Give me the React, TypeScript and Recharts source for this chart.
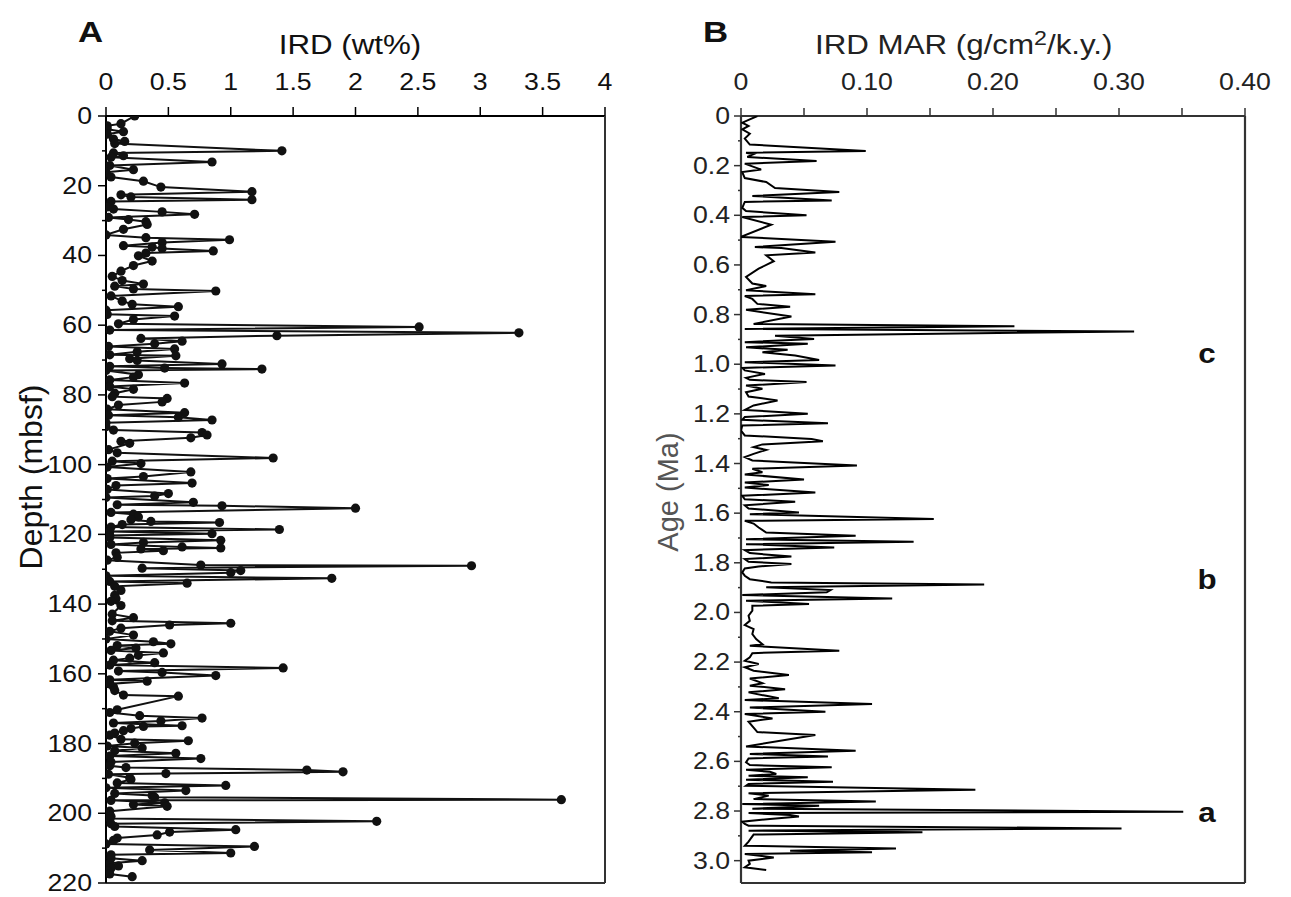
import React from 'react';
import { ScatterChart, Scatter, XAxis, YAxis } from 'recharts';

// ---------- Panel A: IRD (wt%) vs depth (mbsf) ----------
const depthA = [
  0, 2.2, 2.8, 3.8, 4.5, 5.2, 6.6, 7.3, 7.9, 10.0, 10.6, 11.4, 11.8, 13.2, 14.2, 15.4, 16.1, 17.5, 18.7, 20.4,
  21.7, 22.6, 23.2, 24.0, 24.5, 26.1, 26.7, 27.5, 28.2, 29.1, 29.7, 30.3, 31.1, 32.5, 34.1, 34.9, 35.5, 36.3, 37.2, 37.6,
  38.0, 38.7, 39.3, 40.1, 41.6, 42.9, 44.5, 46.0, 47.2, 48.2, 48.8, 49.6, 50.2, 51.6, 53.1, 54.0, 54.7, 55.7, 56.9, 57.4,
  58.4, 59.6, 60.5, 61.4, 62.2, 63.0, 63.8, 64.6, 65.3, 66.1, 66.8, 67.6, 68.5, 68.8, 69.6, 70.1, 71.1, 71.8, 72.3, 72.6,
  73.0, 74.2, 74.9, 75.7, 76.6, 77.6, 78.4, 79.5, 80.5, 81.0, 82.0, 82.9, 84.1, 85.1, 85.8, 86.4, 87.2, 88.0, 89.1, 90.1,
  90.8, 91.5, 92.3, 93.3, 93.9, 95.7, 96.6, 98.1, 99.0, 99.7, 100.7, 102.1, 103.4, 104.0, 105.3, 106.0, 107.1, 108.3, 109.0, 109.4,
  110.8, 111.5, 111.8, 112.5, 113.7, 114.2, 115.0, 115.8, 116.3, 116.6, 117.2, 117.9, 118.6, 119.2, 119.8, 120.3, 120.9, 121.7, 122.3, 122.9,
  123.6, 123.9, 124.2, 124.7, 125.3, 126.6, 127.4, 128.8, 129.0, 129.7, 130.4, 131.0, 131.9, 132.6, 133.5, 134.0, 134.9, 136.1, 137.5, 138.5,
  139.2, 140.4, 142.9, 143.9, 144.8, 145.5, 146.0, 146.9, 147.8, 148.9, 150.0, 150.8, 151.4, 151.9, 152.6, 153.3, 154.0, 154.7, 155.5, 156.1,
  156.8, 157.5, 158.3, 159.2, 159.6, 160.5, 161.7, 162.1, 162.9, 163.8, 164.8, 166.1, 166.4, 170.3, 171.1, 172.0, 172.7, 173.5, 174.1, 174.9,
  175.1, 175.7, 176.3, 177.0, 177.6, 178.8, 179.2, 179.9, 180.7, 181.3, 182.1, 182.8, 183.6, 184.3, 185.3, 186.4, 186.9, 187.6, 188.1, 188.6,
  188.8, 189.8, 190.3, 191.3, 192.0, 192.7, 193.5, 194.3, 194.9, 195.4, 196.1, 196.3, 197.0, 197.5, 198.0, 199.4, 200.1, 200.9, 201.5, 202.3,
  203.0, 203.8, 204.7, 205.4, 206.2, 207.1, 207.8, 208.8, 209.5, 210.5, 211.4, 211.9, 212.9, 213.6, 214.3, 215.1, 215.8, 216.5, 217.4, 218.2,
];
const irdA = [
  0.23, 0.12, 0.01, 0.01, 0.14, 0.01, 0.06, 0.15, 0.07, 1.41, 0.06, 0.14, 0.04, 0.85, 0.03, 0.22, 0.0, 0.04, 0.30, 0.44,
  1.17, 0.12, 0.20, 1.17, 0.04, 0.01, 0.06, 0.45, 0.71, 0.02, 0.18, 0.32, 0.33, 0.14, 0.0, 0.32, 0.99, 0.45, 0.14, 0.37,
  0.45, 0.86, 0.32, 0.26, 0.37, 0.22, 0.12, 0.05, 0.13, 0.30, 0.07, 0.22, 0.88, 0.04, 0.13, 0.21, 0.58, 0.0, 0.01, 0.55,
  0.22, 0.10, 2.51, 0.03, 3.31, 1.37, 0.28, 0.61, 0.39, 0.02, 0.55, 0.25, 0.03, 0.56, 0.19, 0.25, 0.93, 0.03, 0.47, 1.25,
  0.0, 0.26, 0.22, 0.03, 0.63, 0.03, 0.22, 0.07, 0.05, 0.49, 0.45, 0.10, 0.01, 0.63, 0.02, 0.58, 0.85, 0.0, 0.0, 0.06,
  0.77, 0.81, 0.68, 0.12, 0.19, 0.02, 0.09, 1.34, 0.05, 0.28, 0.01, 0.68, 0.30, 0.01, 0.69, 0.08, 0.01, 0.50, 0.39, 0.0,
  0.70, 0.09, 0.93, 2.0, 0.04, 0.22, 0.26, 0.20, 0.36, 0.91, 0.13, 0.04, 1.39, 0.03, 0.85, 0.03, 0.03, 0.92, 0.30, 0.04,
  0.61, 0.92, 0.28, 0.46, 0.08, 0.09, 0.01, 0.76, 2.93, 0.29, 1.08, 1.0, 0.0, 1.81, 0.03, 0.65, 0.07, 0.12, 0.07, 0.08,
  0.04, 0.12, 0.05, 0.22, 0.05, 1.0, 0.51, 0.12, 0.03, 0.22, 0.0, 0.38, 0.52, 0.09, 0.24, 0.04, 0.46, 0.26, 0.19, 0.06,
  0.39, 0.03, 1.42, 0.10, 0.45, 0.88, 0.03, 0.33, 0.03, 0.06, 0.07, 0.14, 0.58, 0.09, 0.03, 0.27, 0.77, 0.44, 0.06, 0.61,
  0.30, 0.20, 0.14, 0.07, 0.03, 0.12, 0.66, 0.23, 0.01, 0.29, 0.07, 0.56, 0.03, 0.76, 0.04, 0.03, 0.16, 1.61, 1.90, 0.48,
  0.02, 0.19, 0.20, 0.09, 0.96, 0.0, 0.64, 0.07, 0.37, 0.39, 3.65, 0.04, 0.47, 0.22, 0.49, 0.03, 0.0, 0.04, 0.03, 2.17,
  0.04, 0.07, 1.04, 0.51, 0.41, 0.09, 0.06, 0.0, 1.19, 0.35, 1.0, 0.04, 0.04, 0.29, 0.03, 0.10, 0.04, 0.01, 0.03, 0.21,
];
const irdTicks = [0, 0.5, 1, 1.5, 2, 2.5, 3, 3.5, 4];
const depthTicks = [0, 10, 20, 30, 40, 50, 60, 70, 80, 90, 100, 110, 120, 130, 140, 150, 160, 170, 180, 190, 200, 210, 220];

// ---------- Panel B: IRD MAR (g/cm2/k.y.) vs age (Ma) ----------
const ageB = [
  0.000, 0.027, 0.040, 0.054, 0.071, 0.091, 0.115, 0.141, 0.148, 0.154, 0.165, 0.181, 0.192, 0.216, 0.226, 0.250, 0.266, 0.290, 0.306, 0.322,
  0.340, 0.346, 0.370, 0.383, 0.400, 0.407, 0.438, 0.487, 0.507, 0.528, 0.532, 0.550, 0.561, 0.585, 0.615, 0.648, 0.675, 0.685, 0.702, 0.718,
  0.725, 0.737, 0.757, 0.768, 0.781, 0.808, 0.838, 0.847, 0.858, 0.868, 0.885, 0.898, 0.911, 0.918, 0.932, 0.942, 0.952, 0.965, 0.983, 0.992,
  1.005, 1.015, 1.025, 1.039, 1.055, 1.063, 1.072, 1.086, 1.099, 1.113, 1.130, 1.146, 1.166, 1.184, 1.200, 1.213, 1.224, 1.238, 1.247, 1.267,
  1.287, 1.301, 1.310, 1.323, 1.334, 1.345, 1.361, 1.374, 1.388, 1.408, 1.421, 1.435, 1.444, 1.464, 1.477, 1.487, 1.497, 1.517, 1.530, 1.544,
  1.554, 1.568, 1.581, 1.597, 1.604, 1.624, 1.631, 1.642, 1.658, 1.678, 1.691, 1.705, 1.715, 1.725, 1.738, 1.749, 1.761, 1.775, 1.785, 1.796,
  1.805, 1.815, 1.823, 1.839, 1.852, 1.866, 1.879, 1.887, 1.899, 1.910, 1.919, 1.930, 1.944, 1.953, 1.966, 1.973, 1.993, 2.013, 2.034, 2.051,
  2.067, 2.087, 2.107, 2.128, 2.134, 2.154, 2.164, 2.181, 2.195, 2.208, 2.221, 2.235, 2.252, 2.266, 2.285, 2.295, 2.309, 2.322, 2.336, 2.346,
  2.353, 2.369, 2.383, 2.400, 2.409, 2.427, 2.440, 2.482, 2.494, 2.540, 2.557, 2.570, 2.580, 2.588, 2.604, 2.615, 2.624, 2.634, 2.642, 2.651,
  2.658, 2.664, 2.674, 2.682, 2.691, 2.698, 2.714, 2.728, 2.738, 2.752, 2.762, 2.772, 2.779, 2.785, 2.791, 2.803, 2.808, 2.816, 2.822, 2.832,
  2.843, 2.852, 2.859, 2.870, 2.879, 2.886, 2.895, 2.923, 2.940, 2.951, 2.960, 2.966, 2.973, 2.987, 3.000, 3.013, 3.027, 3.038,
];
const marB = [
  0.013, 0.001, 0.006, 0.001, 0.007, 0.003, 0.007, 0.099, 0.004, 0.010, 0.005, 0.060, 0.003, 0.016, 0.001, 0.003, 0.020, 0.027, 0.078, 0.009,
  0.072, 0.003, 0.001, 0.004, 0.052, 0.001, 0.024, 0.000, 0.075, 0.011, 0.032, 0.059, 0.020, 0.026, 0.014, 0.004, 0.009, 0.020, 0.004, 0.059,
  0.003, 0.009, 0.013, 0.039, 0.004, 0.040, 0.010, 0.217, 0.003, 0.312, 0.027, 0.058, 0.003, 0.053, 0.004, 0.037, 0.017, 0.043, 0.062, 0.003,
  0.075, 0.001, 0.003, 0.019, 0.004, 0.007, 0.052, 0.004, 0.017, 0.004, 0.006, 0.029, 0.010, 0.003, 0.053, 0.003, 0.001, 0.069, 0.001, 0.000,
  0.003, 0.056, 0.065, 0.017, 0.010, 0.020, 0.010, 0.003, 0.009, 0.092, 0.009, 0.017, 0.003, 0.050, 0.003, 0.022, 0.003, 0.059, 0.001, 0.003,
  0.043, 0.003, 0.006, 0.046, 0.007, 0.153, 0.003, 0.010, 0.014, 0.020, 0.091, 0.004, 0.137, 0.004, 0.074, 0.003, 0.007, 0.040, 0.003, 0.006,
  0.040, 0.014, 0.003, 0.001, 0.003, 0.007, 0.024, 0.193, 0.020, 0.071, 0.068, 0.001, 0.120, 0.004, 0.054, 0.009, 0.009, 0.006, 0.007, 0.003,
  0.010, 0.009, 0.012, 0.017, 0.007, 0.078, 0.009, 0.007, 0.003, 0.014, 0.003, 0.010, 0.038, 0.007, 0.017, 0.007, 0.035, 0.006, 0.020, 0.030,
  0.003, 0.104, 0.007, 0.067, 0.003, 0.025, 0.006, 0.013, 0.059, 0.004, 0.091, 0.007, 0.069, 0.006, 0.004, 0.007, 0.072, 0.004, 0.023, 0.028,
  0.006, 0.053, 0.004, 0.073, 0.006, 0.004, 0.186, 0.006, 0.022, 0.010, 0.107, 0.001, 0.062, 0.037, 0.009, 0.351, 0.006, 0.039, 0.046, 0.023,
  0.001, 0.003, 0.006, 0.302, 0.006, 0.144, 0.010, 0.006, 0.003, 0.123, 0.039, 0.104, 0.003, 0.026, 0.006, 0.007, 0.003, 0.020,
];
const marTicks = [0, 0.05, 0.1, 0.15, 0.2, 0.25, 0.3, 0.35, 0.4];
const ageTicks = [
  0, 0.1, 0.2, 0.3, 0.4, 0.5, 0.6, 0.7, 0.8, 0.9, 1.0, 1.1, 1.2, 1.3, 1.4, 1.5,
  1.6, 1.7, 1.8, 1.9, 2.0, 2.1, 2.2, 2.3, 2.4, 2.5, 2.6, 2.7, 2.8, 2.9, 3.0,
];
const eventLabels = ['c', 'b', 'a'];
const eventAges = [0.96, 1.87, 2.81];

const dataA = depthA.map((d, i) => ({ depth: d, ird: irdA[i] }));
const dataB = ageB.map((a, i) => ({ age: a, mar: marB[i] }));

const FONT = '"Liberation Sans", Arial, Helvetica, sans-serif';
const TICK_FS = 23;
const SX = 1.16; // horizontal stretch of the lettering in the reference
const GRAY = '#333';

const StretchText = (p: any) => {
  const { x, y, anchor, size, fill, children, weight } = p;
  return (
    <text
      x={0}
      y={0}
      transform={`translate(${x} ${y}) scale(${SX} 1)`}
      textAnchor={anchor}
      fontSize={size}
      fontFamily={FONT}
      fontWeight={weight || 'normal'}
      fill={fill}
    >
      {children}
    </text>
  );
};

const IrdTick = (props: any) => {
  const { x, y, payload } = props;
  return (
    <g>
      <line x1={x} x2={x} y1={y - 9} y2={y} stroke="#000" strokeWidth={1.5} />
      <StretchText x={x} y={y - 26} anchor="middle" size={TICK_FS} fill="#111">
        {String(payload.value)}
      </StretchText>
    </g>
  );
};

const DepthTick = (props: any) => {
  const { x, y, payload } = props;
  const v = payload.value;
  const major = v % 20 === 0;
  return (
    <g>
      <line x1={x - (major ? 8 : 4)} x2={x} y1={y} y2={y} stroke="#000" strokeWidth={1.5} />
      {major && (
        <StretchText x={x - 14} y={y + 8} anchor="end" size={TICK_FS} fill="#111">
          {String(v)}
        </StretchText>
      )}
    </g>
  );
};

const MarTick = (props: any) => {
  const { x, y, payload } = props;
  const v = payload.value;
  const k = Math.round(v * 100);
  const labeled = k % 10 === 0;
  return (
    <g>
      <line x1={x} x2={x} y1={y - 8} y2={y} stroke={GRAY} strokeWidth={1.5} />
      {labeled && (
        <StretchText x={x} y={y - 26} anchor="middle" size={TICK_FS} fill="#222">
          {v === 0 ? '0' : v.toFixed(2)}
        </StretchText>
      )}
    </g>
  );
};

const AgeTick = (props: any) => {
  const { x, y, payload } = props;
  const v = payload.value;
  const k = Math.round(v * 10);
  const major = k % 2 === 0;
  return (
    <g>
      <line x1={x - (major ? 7 : 3)} x2={x} y1={y} y2={y} stroke={GRAY} strokeWidth={1.5} />
      {major && (
        <StretchText x={x - 11} y={y + 8} anchor="end" size={TICK_FS} fill="#222">
          {v === 0 ? '0' : v.toFixed(1)}
        </StretchText>
      )}
    </g>
  );
};

const Dot = (props: any) => <circle cx={props.cx} cy={props.cy} r={4.6} fill="#111" />;
const NoDot = () => <g />;

export default function App() {
  return (
    <div style={{ position: 'absolute', left: 0, top: 0, width: 1291, height: 897, background: '#fff', fontFamily: FONT }}>
      <div style={{ position: 'absolute', left: 0, top: 0 }}>
        <ScatterChart width={660} height={897} margin={{ top: 76, left: 46, right: 54, bottom: 13 }}>
          <XAxis
            xAxisId="top"
            type="number"
            dataKey="ird"
            orientation="top"
            domain={[0, 4]}
            ticks={irdTicks}
            interval={0}
            height={40}
            tickSize={0}
            tickMargin={0}
            tickLine={false}
            tick={<IrdTick />}
            axisLine={{ stroke: '#000', strokeWidth: 2 }}
            allowDataOverflow
          />
          <XAxis
            xAxisId="bottom"
            type="number"
            orientation="bottom"
            domain={[0, 4]}
            height={1}
            tick={false}
            tickLine={false}
            axisLine={{ stroke: '#333', strokeWidth: 2 }}
          />
          <YAxis
            yAxisId="left"
            type="number"
            dataKey="depth"
            reversed
            domain={[0, 220]}
            ticks={depthTicks}
            interval={0}
            width={60}
            tickSize={0}
            tickMargin={0}
            tickLine={false}
            tick={<DepthTick />}
            axisLine={{ stroke: '#000', strokeWidth: 2 }}
            allowDataOverflow
          />
          <YAxis
            yAxisId="right"
            type="number"
            orientation="right"
            domain={[0, 220]}
            width={1}
            tick={false}
            tickLine={false}
            axisLine={{ stroke: '#333', strokeWidth: 2 }}
          />
          <Scatter
            xAxisId="top"
            yAxisId="left"
            data={dataA}
            line={{ stroke: '#111', strokeWidth: 2 }}
            shape={<Dot />}
            isAnimationActive={false}
          />
        </ScatterChart>
      </div>
      <div style={{ position: 'absolute', left: 660, top: 0 }}>
        <ScatterChart width={631} height={897} margin={{ top: 76, left: 21, right: 45, bottom: 13 }}>
          <XAxis
            xAxisId="top"
            type="number"
            dataKey="mar"
            orientation="top"
            domain={[0, 0.4]}
            ticks={marTicks}
            interval={0}
            height={40}
            tickSize={0}
            tickMargin={0}
            tickLine={false}
            tick={<MarTick />}
            axisLine={{ stroke: GRAY, strokeWidth: 2.2 }}
            allowDataOverflow
          />
          <XAxis
            xAxisId="bottom"
            type="number"
            orientation="bottom"
            domain={[0, 0.4]}
            height={1}
            tick={false}
            tickLine={false}
            axisLine={{ stroke: GRAY, strokeWidth: 2.2 }}
          />
          <YAxis
            yAxisId="left"
            type="number"
            dataKey="age"
            reversed
            domain={[0, 3.09]}
            ticks={ageTicks}
            interval={0}
            width={60}
            tickSize={0}
            tickMargin={0}
            tickLine={false}
            tick={<AgeTick />}
            axisLine={{ stroke: GRAY, strokeWidth: 2.2 }}
            allowDataOverflow
          />
          <YAxis
            yAxisId="right"
            type="number"
            orientation="right"
            domain={[0, 3.09]}
            width={1}
            tick={false}
            tickLine={false}
            axisLine={{ stroke: GRAY, strokeWidth: 2.2 }}
          />
          <Scatter
            xAxisId="top"
            yAxisId="left"
            data={dataB}
            line={{ stroke: '#000', strokeWidth: 2 }}
            shape={<NoDot />}
            isAnimationActive={false}
          />
        </ScatterChart>
      </div>
      <svg width={1291} height={897} style={{ position: 'absolute', left: 0, top: 0, pointerEvents: 'none' }}>
        <g fontFamily={FONT}>
          <StretchText x={78} y={42} size={30} weight="bold" fill="#111" anchor="start">A</StretchText>
          <StretchText x={703} y={42} size={30} weight="bold" fill="#111" anchor="start">B</StretchText>
          <StretchText x={350} y={54} size={27} anchor="middle" fill="#111">IRD (wt%)</StretchText>
          <text x={0} y={0} transform={`translate(815 54) scale(${SX} 1)`} fontSize={27} fontFamily={FONT} fill="#222">
            IRD MAR (g/cm<tspan dy={-9} fontSize={20}>2</tspan><tspan dy={9}>/k.y.)</tspan>
          </text>
          <text x={0} y={0} fontSize={32} textAnchor="middle" fill="#111" transform="translate(42 477) rotate(-90)">Depth (mbsf)</text>
          <text x={0} y={0} fontSize={29} textAnchor="middle" fill="#555" transform="translate(678 492) rotate(-90)">Age (Ma)</text>
          {eventLabels.map((l, i) => (
            <StretchText key={l} x={1207} y={116 + (eventAges[i] / 3.09) * 767 + 9} size={27} weight="bold" anchor="middle" fill="#111">
              {l}
            </StretchText>
          ))}
        </g>
      </svg>
    </div>
  );
}
